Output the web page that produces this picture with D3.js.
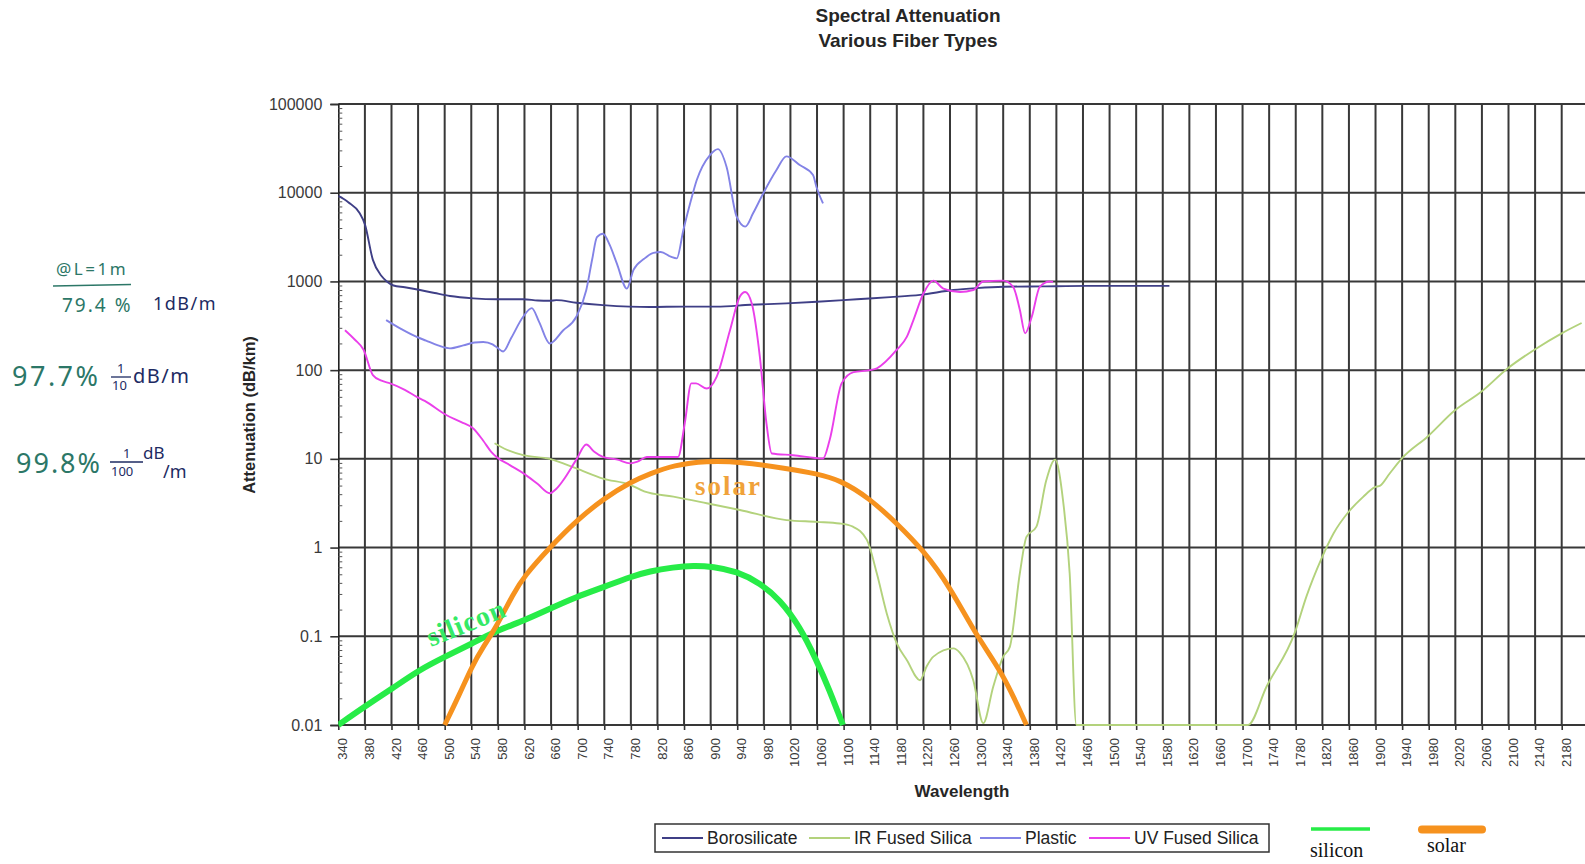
<!DOCTYPE html>
<html>
<head>
<meta charset="utf-8">
<script src="https://cdn.jsdelivr.net/npm/d3@7"></script>
<style>
  html, body { margin: 0; padding: 0; background: #fff; }
  svg { display: block; font-family: "Liberation Sans", Arial, sans-serif; }
</style>
</head>
<body>
<svg id="chart" width="1585" height="864"></svg>
<script>
// ---- data: [wavelength (nm), attenuation (dB/km)] ----
const borosilicate = [
  [340, 9200], [355, 7800], [372, 5900], [380, 4400], [392, 1750], [405, 1150], [413, 1000],
  [423, 900], [440, 860], [463, 800], [485, 740], [508, 685], [543, 645], [578, 630], [618, 630],
  [640, 610], [658, 605], [668, 615], [698, 575], [738, 540], [778, 520], [808, 515], [860, 520],
  [909, 520], [960, 545], [1014, 565], [1060, 590], [1120, 630], [1170, 665], [1215, 705],
  [1265, 800], [1300, 840], [1340, 870], [1400, 880], [1465, 890], [1530, 890], [1590, 890]
];
const irFusedSilica = [
  [575, 15], [590, 13], [618, 11], [658, 10], [698, 7.8], [738, 6.0], [779, 5.1], [800, 4.3],
  [844, 3.75], [894, 3.16], [944, 2.65], [1014, 2.04], [1060, 1.95], [1094, 1.87], [1114, 1.72],
  [1135, 1.22], [1150, 0.51], [1165, 0.18], [1180, 0.083], [1195, 0.054], [1215, 0.032],
  [1225, 0.046], [1235, 0.059], [1265, 0.073], [1275, 0.065], [1295, 0.032], [1310, 0.0105],
  [1325, 0.027], [1340, 0.059], [1350, 0.076], [1365, 0.51], [1375, 1.32], [1390, 1.72],
  [1405, 5.8], [1418, 9.8], [1430, 3.4], [1440, 0.51], [1450, 0.01], [1500, 0.01], [1600, 0.01],
  [1700, 0.01], [1708, 0.01], [1736, 0.027], [1779, 0.112], [1796, 0.28], [1819, 0.76],
  [1837, 1.45], [1859, 2.5], [1881, 3.7], [1899, 4.8], [1907, 5.0], [1921, 6.8], [1939, 10],
  [1979, 18], [2019, 35], [2059, 57], [2099, 105], [2139, 170], [2180, 260], [2210, 340]
];
const plastic = [
  [412, 367], [435, 290], [458, 237], [472, 215], [490, 190], [508, 176], [528, 190], [545, 205],
  [558, 208], [572, 195], [578, 182], [588, 162], [600, 230], [618, 400], [631, 500], [642, 350],
  [658, 200], [678, 280], [698, 400], [713, 800], [722, 1800], [729, 3150], [738, 3450],
  [748, 2600], [759, 1590], [774, 830], [784, 1350], [800, 1800], [814, 2100], [825, 2150],
  [840, 1900], [849, 1820], [859, 3800], [870, 8000], [879, 13800], [899, 26600], [911, 31000],
  [924, 19500], [939, 5400], [952, 4150], [964, 5900], [979, 9800], [999, 18000], [1014, 25700],
  [1034, 20500], [1054, 15800], [1059, 11700], [1069, 7600]
];
const uvFusedSilica = [
  [350, 282], [365, 220], [378, 170], [392, 88], [405, 76], [418, 71], [440, 60], [458, 50],
  [470, 45], [503, 31], [525, 26], [543, 22], [558, 16], [570, 12], [578, 10.5], [598, 8.5],
  [618, 6.9], [640, 5.2], [658, 4.1], [668, 4.6], [678, 5.7], [698, 9.8], [713, 14.5], [725, 12],
  [738, 10.5], [760, 9.8], [779, 8.9], [790, 9.3], [804, 10.5], [851, 10.5], [861, 25], [871, 71],
  [878, 71], [894, 62], [909, 84], [929, 280], [944, 675], [952, 760], [962, 560], [974, 142],
  [984, 25], [992, 11.5], [1024, 11], [1069, 10.1], [1079, 16.3], [1097, 71], [1115, 95],
  [1140, 100], [1150, 105], [1180, 170], [1195, 237], [1205, 367], [1220, 730], [1235, 1020],
  [1250, 830], [1275, 760], [1295, 800], [1310, 1000], [1340, 1020], [1355, 870], [1365, 480],
  [1373, 260], [1383, 400], [1395, 870], [1410, 1000], [1415, 990]
];
const silicon = [
  [340, 0.01], [380, 0.0162], [421, 0.0257], [461, 0.0415], [501, 0.059], [541, 0.083],
  [580, 0.117], [619, 0.15], [659, 0.206], [699, 0.28], [740, 0.36], [780, 0.47], [808, 0.54],
  [844, 0.6], [874, 0.63], [904, 0.61], [939, 0.54], [974, 0.40], [1004, 0.26], [1034, 0.129],
  [1059, 0.054], [1079, 0.0245], [1094, 0.0124], [1099, 0.01]
];
const solar = [
  [500, 0.01], [523, 0.0227], [541, 0.046], [558, 0.076], [578, 0.129], [603, 0.30], [619, 0.47],
  [659, 1.02], [699, 2.04], [740, 3.6], [780, 5.5], [809, 6.8], [844, 8.5], [894, 9.5], [944, 9.3],
  [1014, 7.8], [1060, 6.8], [1094, 5.8], [1139, 3.6], [1180, 1.87], [1220, 0.93], [1260, 0.36],
  [1300, 0.1], [1340, 0.038], [1375, 0.01]
];

// ---- axis ticks and labels ----
const xTickValues = d3.range(340, 2181, 40);
const yTickValues = [0.01, 0.1, 1, 10, 100, 1000, 10000, 100000];
const yTickLabels = ["0.01", "0.1", "1", "10", "100", "1000", "10000", "100000"];
const fiberNames = ["Borosilicate", "IR Fused Silica", "Plastic", "UV Fused Silica"];
const fiberColors = ["#3f3f86", "#b3d27c", "#8383e6", "#ea3fea"];
const fiberSeries = [borosilicate, irFusedSilica, plastic, uvFusedSilica];

// ---- layout ----
const svg = d3.select("#chart");
const plotLeft = 338.3, plotTop = 104, plotBottom = 725;
const x = d3.scaleLinear().domain([340, 2180]).range([338.3, 1561.7]);
const y = d3.scaleLog().domain([0.01, 100000]).range([plotBottom, plotTop]);
const xMax = 2220;
const plotRight = x(xMax);

svg.append("rect").attr("width", 1585).attr("height", 864).attr("fill", "#fff");

svg.append("defs").append("clipPath").attr("id", "plot-clip")
  .append("rect").attr("x", plotLeft).attr("y", plotTop - 3)
  .attr("width", plotRight - plotLeft).attr("height", plotBottom - plotTop + 6);

// gridlines
const grid = svg.append("g").attr("stroke", "#383838").attr("stroke-width", 2);
grid.selectAll("line.h").data(yTickValues).join("line").attr("class", "h")
  .attr("x1", plotLeft).attr("x2", plotRight).attr("y1", d => y(d)).attr("y2", d => y(d));
grid.selectAll("line.v").data(xTickValues.filter(d => d > 340)).join("line").attr("class", "v")
  .attr("x1", d => x(d)).attr("x2", d => x(d)).attr("y1", plotTop).attr("y2", plotBottom);

// y axis (major) with labels
const yAxis = svg.append("g").attr("transform", `translate(${plotLeft},0)`)
  .call(d3.axisLeft(y).tickValues(yTickValues).tickSize(8).tickPadding(8)
    .tickFormat((d, i) => yTickLabels[i]));
yAxis.select(".domain").attr("stroke", "#222").attr("stroke-width", 1.6);
yAxis.selectAll(".tick line").attr("stroke", "#333").attr("stroke-width", 1.6);
yAxis.selectAll("text").attr("font-size", 16).attr("fill", "#3a3a3a")
  .attr("font-family", "Liberation Sans, Arial, sans-serif");

// y axis minor ticks
const minorValues = [];
for (let e = -2; e < 5; e++) for (let k = 2; k <= 9; k++) minorValues.push(k * Math.pow(10, e));
const yMinor = svg.append("g").attr("transform", `translate(${plotLeft},0)`)
  .call(d3.axisRight(y).tickValues(minorValues).tickSize(4).tickFormat(""));
yMinor.select(".domain").remove();
yMinor.selectAll(".tick line").attr("stroke", "#555").attr("stroke-width", 1);

// x axis
const xAxis = svg.append("g").attr("transform", `translate(0,${plotBottom})`)
  .call(d3.axisBottom(x).tickValues(xTickValues).tickSize(5).tickFormat(d3.format("d")));
xAxis.select(".domain").remove();
xAxis.selectAll(".tick line").attr("stroke", "#333").attr("stroke-width", 1.6);
xAxis.selectAll("text")
  .attr("transform", "rotate(-90)")
  .attr("x", -13).attr("y", 4).attr("dy", "0.35em")
  .attr("text-anchor", "end")
  .attr("font-size", 13).attr("fill", "#3a3a3a")
  .attr("font-family", "Liberation Sans, Arial, sans-serif");

// series
const line = d3.line().x(d => x(d[0])).y(d => y(d[1])).curve(d3.curveMonotoneX);
const smoothLine = d3.line().x(d => x(d[0])).y(d => y(d[1])).curve(d3.curveBasis);
const plot = svg.append("g").attr("clip-path", "url(#plot-clip)");
fiberSeries.forEach((s, i) => {
  plot.append("path").datum(s).attr("d", line)
    .attr("fill", "none").attr("stroke", fiberColors[i]).attr("stroke-width", 1.9)
    .attr("stroke-linejoin", "round");
});
plot.append("path").datum(silicon).attr("d", smoothLine)
  .attr("fill", "none").attr("stroke", "#27ec47").attr("stroke-width", 6);
plot.append("path").datum(solar).attr("d", smoothLine)
  .attr("fill", "none").attr("stroke", "#f6921e").attr("stroke-width", 5);

// curve annotations
svg.append("text").attr("transform", "translate(431,647) rotate(-22)")
  .attr("font-family", "Liberation Serif, Times New Roman, serif").attr("font-weight", "bold")
  .attr("font-size", 28).attr("letter-spacing", 1).attr("fill", "#35ea66").text("silicon");
svg.append("text").attr("x", 695).attr("y", 495)
  .attr("font-family", "Liberation Serif, Times New Roman, serif").attr("font-weight", "bold")
  .attr("font-size", 27).attr("letter-spacing", 2).attr("fill", "#f0a23a").text("solar");

// titles
const title = svg.append("text").attr("text-anchor", "middle").attr("font-weight", "bold")
  .attr("font-size", 19).attr("fill", "#262626");
title.append("tspan").attr("x", 908).attr("y", 22).text("Spectral Attenuation");
title.append("tspan").attr("x", 908).attr("y", 47).text("Various Fiber Types");

svg.append("text").attr("x", 962).attr("y", 797).attr("text-anchor", "middle")
  .attr("font-weight", "bold").attr("font-size", 17).attr("fill", "#262626").text("Wavelength");

svg.append("text").attr("transform", "translate(255,415) rotate(-90)").attr("text-anchor", "middle")
  .attr("font-weight", "bold").attr("font-size", 16.5).attr("fill", "#262626").text("Attenuation (dB/km)");

// legend for fiber types
const legend = svg.append("g");
legend.append("rect").attr("x", 655).attr("y", 824).attr("width", 614).attr("height", 28)
  .attr("fill", "#fff").attr("stroke", "#333").attr("stroke-width", 1.5);
const legendX = [662, 809, 980, 1089];
fiberNames.forEach((name, i) => {
  legend.append("line").attr("x1", legendX[i]).attr("x2", legendX[i] + 41)
    .attr("y1", 838).attr("y2", 838).attr("stroke", fiberColors[i]).attr("stroke-width", 2);
  legend.append("text").attr("x", legendX[i] + 45).attr("y", 844)
    .attr("font-size", 17.5).attr("fill", "#222").text(name);
});

// legend for silicon and solar
svg.append("line").attr("x1", 1311).attr("x2", 1370).attr("y1", 829).attr("y2", 829)
  .attr("stroke", "#27ec47").attr("stroke-width", 3.5);
svg.append("text").attr("x", 1310).attr("y", 857)
  .attr("font-family", "Liberation Serif, Times New Roman, serif").attr("font-size", 20)
  .attr("fill", "#111").text("silicon");
svg.append("line").attr("x1", 1422).attr("x2", 1482).attr("y1", 829.5).attr("y2", 829.5)
  .attr("stroke", "#f6921e").attr("stroke-width", 8).attr("stroke-linecap", "round");
svg.append("text").attr("x", 1427).attr("y", 852)
  .attr("font-family", "Liberation Serif, Times New Roman, serif").attr("font-size", 20)
  .attr("fill", "#111").text("solar");

// handwritten notes on transmission per metre
const teal = "#2c7767", navy = "#1d2a62";
const notes = svg.append("g").attr("font-family", "Noto Sans, DejaVu Sans, sans-serif");
notes.append("text").attr("x", 56).attr("y", 275).attr("font-size", 17).attr("letter-spacing", 2.5)
  .attr("fill", teal).text("@L=1m");
notes.append("line").attr("x1", 53).attr("y1", 286).attr("x2", 131).attr("y2", 284.5)
  .attr("stroke", teal).attr("stroke-width", 1.6);
notes.append("text").attr("x", 62).attr("y", 312).attr("font-size", 19).attr("letter-spacing", 2)
  .attr("fill", teal).text("79.4 %");
notes.append("text").attr("x", 153).attr("y", 310).attr("font-size", 18).attr("letter-spacing", 1.5)
  .attr("fill", navy).text("1dB/m");

notes.append("text").attr("x", 12).attr("y", 386).attr("font-size", 27).attr("letter-spacing", 2.5)
  .attr("fill", teal).text("97.7%");
notes.append("text").attr("x", 117).attr("y", 373).attr("font-size", 13).attr("fill", navy).text("1");
notes.append("line").attr("x1", 111).attr("x2", 131).attr("y1", 377).attr("y2", 377)
  .attr("stroke", navy).attr("stroke-width", 1.3);
notes.append("text").attr("x", 112).attr("y", 390).attr("font-size", 13).attr("fill", navy).text("10");
notes.append("text").attr("x", 133).attr("y", 383).attr("font-size", 20).attr("letter-spacing", 1.5)
  .attr("fill", navy).text("dB/m");

notes.append("text").attr("x", 16).attr("y", 473).attr("font-size", 27).attr("letter-spacing", 2)
  .attr("fill", teal).text("99.8%");
notes.append("text").attr("x", 123).attr("y", 458).attr("font-size", 13).attr("fill", navy).text("1");
notes.append("line").attr("x1", 110).attr("x2", 143).attr("y1", 462).attr("y2", 462)
  .attr("stroke", navy).attr("stroke-width", 1.3);
notes.append("text").attr("x", 111).attr("y", 476).attr("font-size", 13).attr("fill", navy).text("100");
notes.append("text").attr("x", 143).attr("y", 459).attr("font-size", 17).attr("fill", navy).text("dB");
notes.append("text").attr("x", 163).attr("y", 478).attr("font-size", 18).attr("fill", navy).text("/m");
</script>
</body>
</html>
